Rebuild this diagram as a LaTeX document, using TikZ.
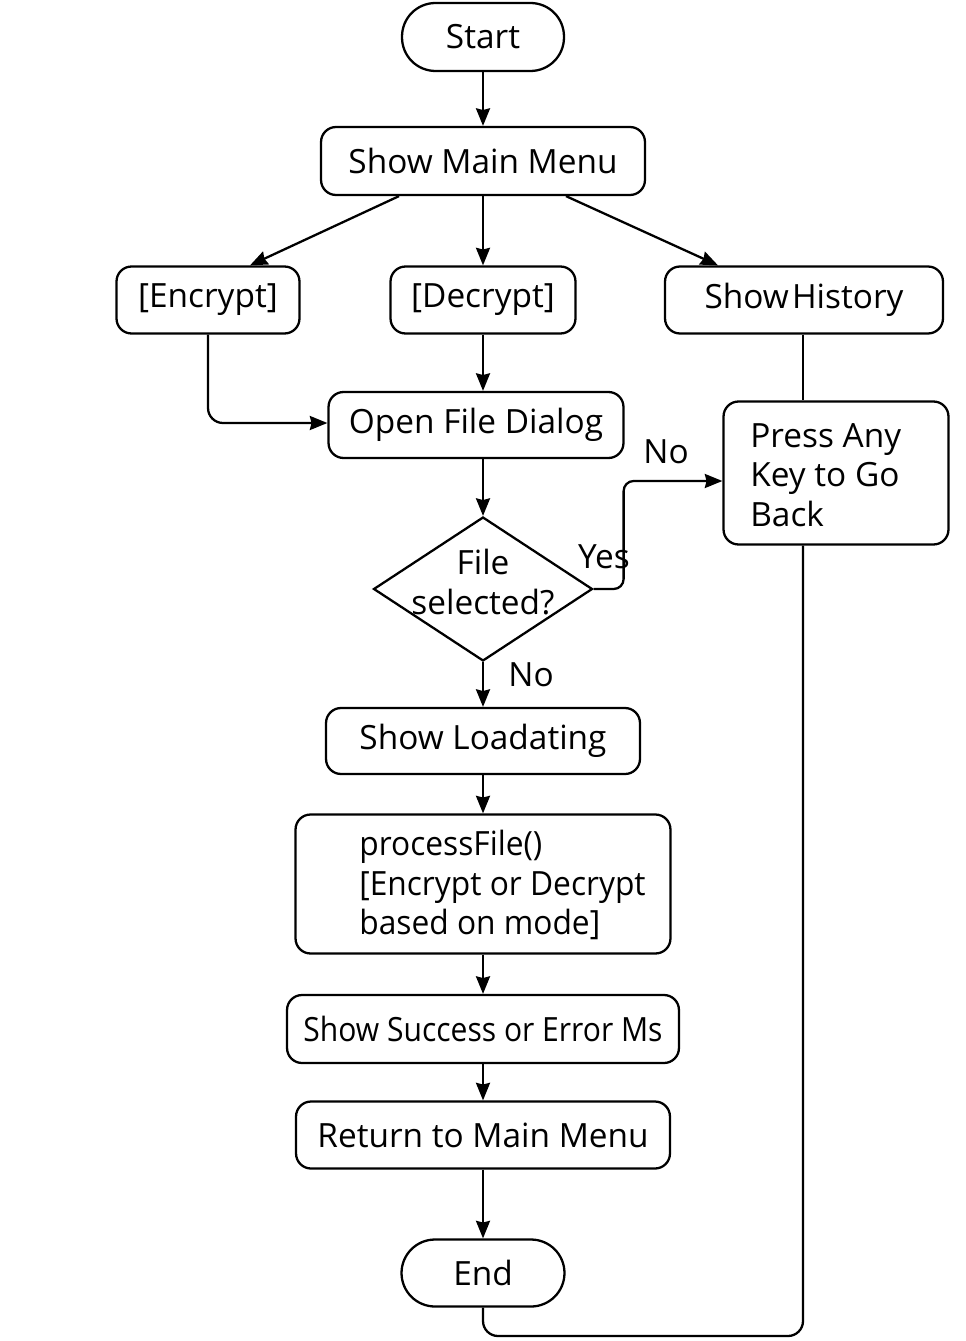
\documentclass[tikz,border=0pt]{standalone}
\usepackage{fontspec}
\setmainfont{Open Sans}
\usetikzlibrary{shapes.geometric,arrows.meta,calc}
\begin{document}
\begin{tikzpicture}[x=0.02cm,y=-0.02cm,
  every node/.style={font=\fontsize{19}{22.5}\selectfont},
  box/.style={draw,line width=1.3pt,rounded corners=0.3cm,inner sep=0pt,align=center},
  term/.style={draw,line width=1.3pt,rounded corners=0.67cm,inner sep=0pt,align=center},
  dec/.style={draw,line width=1.3pt,diamond,inner sep=0pt,align=center},
  txt/.style={inner sep=0pt,align=left},
  lab/.style={inner sep=0pt},
  conn/.style={line width=1.3pt},
  arr/.style={line width=1.3pt,-{Stealth[length=10pt,width=8pt,inset=1pt]}}]
\useasboundingbox[fill=white] (0,0) rectangle (966,1341);

\node[term,minimum width=3.24cm,minimum height=1.36cm] (start) at (483,37) {Start};
\node[box,minimum width=6.48cm,minimum height=1.36cm] (menu) at (483,161) {Show Main Menu};
\node[box,minimum width=3.66cm,minimum height=1.34cm] (enc) at (208,300) {[Encrypt]};
\node[box,minimum width=3.7cm,minimum height=1.34cm] (decr) at (483,300) {[Decrypt]};
\node[box,minimum width=5.56cm,minimum height=1.34cm] (hist) at (804,300) {Show\hspace{0.1em}History};
\node[box,minimum width=5.9cm,minimum height=1.32cm] (open) at (476,425) {Open File Dialog};
\node[box,minimum width=4.5cm,minimum height=2.86cm] (press) at (836,473) {};
\node[txt,anchor=west] (presst) at (750,475) {Press Any\\Key to Go\\Back};
\node[dec,minimum width=4.38cm,minimum height=2.88cm] (dia) at (483,589) {};
\node[inner sep=0pt,align=center] (diat) at (483,582) {File\\selected?};
\node[box,minimum width=6.28cm,minimum height=1.32cm] (load) at (483,741) {Show Loadating};
\node[box,minimum width=7.5cm,minimum height=2.78cm] (proc) at (483,884) {};
\node[txt,anchor=west] (proct) at (359,885) {\scalebox{0.95}[1]{processFile()}\\\scalebox{0.95}[1]{[Encrypt or Decrypt}\\\scalebox{0.95}[1]{based on mode]}};
\node[box,minimum width=7.84cm,minimum height=1.36cm] (succ) at (483,1029) {\scalebox{0.9}[1]{Show Success or Error Ms}};
\node[box,minimum width=7.48cm,minimum height=1.34cm] (ret) at (483,1135) {Return to Main Menu};
\node[term,minimum width=3.26cm,minimum height=1.34cm] (end) at (483,1273) {End};

\node[lab] (l1) at (666,452) {No};
\node[lab] (l2) at (604,557) {Yes};
\node[lab] (l3) at (531,675) {No};

\draw[arr] (start) -- (menu);
\draw[arr] ($(menu.south)+(-84,0)$) -- ($(enc.north)+(42,0)$);
\draw[arr] (menu.south) -- (decr.north);
\draw[arr] ($(menu.south)+(83,0)$) -- ($(hist.north)+(-86,0)$);
\draw[arr,rounded corners=0.3cm] (enc.south) |- (open.west |- 0,423);
\draw[arr] (decr.south) -- (decr.south |- open.north);
\draw[arr] (open.south -| dia.north) -- (dia.north);
\draw[arr,rounded corners=0.2cm] (dia.east) -- ++(30,0) |- ($(press.west)+(0,8)$);
\draw[arr] (dia.south) -- (load.north);
\draw[arr] (load) -- (proc);
\draw[arr] (proc) -- (succ);
\draw[arr] (succ) -- (ret);
\draw[arr] (ret) -- (end);
\draw[conn] (hist.south -| 803,0) -- (press.north -| 803,0);
\draw[conn,rounded corners=0.3cm] (press.south -| 803,0) -- (803,1336) -| (end.south);
\end{tikzpicture}
\end{document}
